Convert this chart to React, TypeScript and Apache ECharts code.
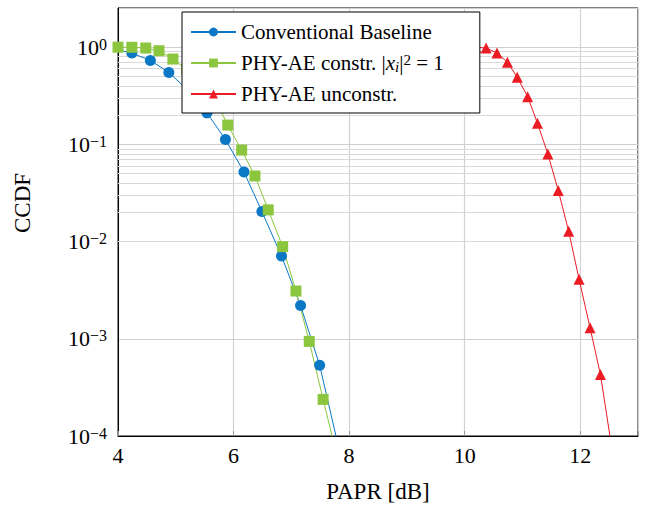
import React, { useEffect, useRef } from "react";
import * as echarts from "echarts";

// ---- data ----
const baselineX = [3.91, 4.24, 4.56, 4.88, 5.21, 5.54, 5.86, 6.18, 6.49, 6.83, 7.16, 7.49, 7.81];
const baselineY = [0.97, 0.87, 0.73, 0.55, 0.36, 0.211, 0.112, 0.052, 0.0204, 0.0071, 0.0022, 0.000535, 0.00008];

const constrX = [4.0, 4.24, 4.48, 4.71, 4.95, 5.19, 5.42, 5.66, 5.9, 6.14, 6.37, 6.6, 6.85, 7.08, 7.31, 7.55, 7.78];
const constrY = [1.0, 0.998, 0.98, 0.92, 0.755, 0.59, 0.44, 0.31, 0.158, 0.0873, 0.0473, 0.0212, 0.00887, 0.0031, 0.00094, 0.000238, 0.000066];

const unconstrX = [10.19, 10.37, 10.56, 10.74, 10.91, 11.09, 11.26, 11.44, 11.62, 11.8, 11.98, 12.17, 12.35, 12.53];
const unconstrY = [1.0, 0.98, 0.87, 0.7, 0.49, 0.31, 0.165, 0.0796, 0.0336, 0.0128, 0.0041, 0.0013, 0.00043, 0.000087];

const seriesNames = ["Conventional Baseline", "PHY-AE constr. |x_i|^2 = 1", "PHY-AE unconstr."];
const xTickValues = [4, 6, 8, 10, 12];
const yDecades = [-4, -3, -2, -1, 0];
const minorMantissas = [2, 3, 4, 5, 6, 7, 8, 9];

const BLUE = "#0b78c6";
const GREEN = "#8cc63e";
const RED = "#ec1c24";
const FONT = "'Liberation Serif', 'DejaVu Serif', serif";

const zip = (xs: number[], ys: number[]) => xs.map((x, i) => [x, ys[i]]);

export default function App() {
  const ref = useRef<HTMLDivElement>(null);
  useEffect(() => {
    document.body.style.margin = "0";
    const chart = echarts.init(ref.current!, null, { renderer: "svg" });
    const minorGrid: number[] = [];
    yDecades.slice(0, -1).forEach((d) => minorMantissas.forEach((m) => minorGrid.push(m * Math.pow(10, d))));

    const option: any = {
      animation: false,
      backgroundColor: "#fff",
      grid: { left: 118, right: 11, top: 8, bottom: 70, show: true, borderColor: "#000", borderWidth: 1, backgroundColor: "transparent" },
      legend: {
        orient: "vertical",
        left: 182,
        top: 12,
        z: 20,
        data: seriesNames,
        itemWidth: 45,
        itemHeight: 11,
        itemGap: 9,
        padding: [9, 36, 8, 8],
        backgroundColor: "#fff",
        borderColor: "#000",
        borderWidth: 1,
        borderRadius: 0,
        formatter: (name: string) =>
          name === seriesNames[1] ? "PHY-AE constr. |{it|x}{sub|i}|{sup|2} = 1" : name,
        textStyle: {
          fontFamily: FONT,
          fontSize: 21,
          color: "#000",
          lineHeight: 22,
          rich: {
            it: { fontFamily: FONT, fontSize: 21, fontStyle: "italic", color: "#000", lineHeight: 22 },
            sub: { fontFamily: FONT, fontSize: 15, fontStyle: "italic", color: "#000", verticalAlign: "bottom", lineHeight: 14 },
            sup: { fontFamily: FONT, fontSize: 15, color: "#000", verticalAlign: "top", lineHeight: 14 },
          },
        },
      },
      xAxis: {
        type: "value",
        min: 4,
        max: 13,
        interval: 2,
        name: "PAPR [dB]",
        nameLocation: "middle",
        nameGap: 44,
        nameTextStyle: { fontFamily: FONT, fontSize: 23, color: "#000" },
        axisLine: { show: true, lineStyle: { color: "#000", width: 1 } },
        axisTick: { show: true, inside: true, length: 5, lineStyle: { color: "#999" } },
        axisLabel: {
          fontFamily: FONT,
          fontSize: 22,
          color: "#000",
          margin: 8,
          formatter: (v: number) => (xTickValues.includes(v) ? String(v) : ""),
        },
        splitLine: { show: true, lineStyle: { color: "#d2d2d2", width: 1.2 } },
      },
      yAxis: {
        type: "log",
        logBase: 10,
        min: 1e-4,
        max: 2.53,
        name: "CCDF",
        nameLocation: "middle",
        nameGap: 84,
        nameTextStyle: { fontFamily: FONT, fontSize: 23, color: "#000", padding: [0, 0, 0, 38] },
        axisLine: { show: true, lineStyle: { color: "#000", width: 1 } },
        axisTick: { show: false },
        axisLabel: {
          fontFamily: FONT,
          fontSize: 22,
          color: "#000",
          margin: 11,
          formatter: (v: number) => {
            const l = Math.log10(v);
            const e = Math.round(l);
            if (Math.abs(l - e) > 1e-6 || !yDecades.includes(e)) return "";
            return "10{sup|" + (e < 0 ? "\u2212" + -e : String(e)) + "}";
          },
          rich: {
            sup: { fontFamily: FONT, fontSize: 16, color: "#000", verticalAlign: "top", lineHeight: 15 },
          },
          lineHeight: 22,
        },
        splitLine: { show: true, lineStyle: { color: "#cfcfcf", width: 1 } },
      },
      series: [
        {
          name: "minor-grid",
          type: "line",
          data: [],
          silent: true,
          z: 1,
          markLine: {
            silent: true,
            symbol: "none",
            z: 1,
            label: { show: false },
            emphasis: { disabled: true },
            lineStyle: { color: "#d9d9d9", width: 1, type: "solid" },
            data: minorGrid.map((v) => ({ yAxis: v })),
          },
        },
        {
          name: seriesNames[0],
          type: "line",
          data: zip(baselineX, baselineY),
          symbol: "circle",
          symbolSize: 11,
          clip: true,
          z: 2,
          lineStyle: { color: BLUE, width: 1 },
          itemStyle: { color: BLUE },
        },
        {
          name: seriesNames[1],
          type: "line",
          data: zip(constrX, constrY),
          symbol: "rect",
          symbolSize: 11,
          clip: true,
          z: 2,
          lineStyle: { color: GREEN, width: 1 },
          itemStyle: { color: GREEN },
        },
        {
          name: seriesNames[2],
          type: "line",
          data: zip(unconstrX, unconstrY),
          symbol: "triangle",
          symbolSize: 11,
          clip: true,
          z: 2,
          lineStyle: { color: RED, width: 1 },
          itemStyle: { color: RED },
        },
      ],
    };
    chart.setOption(option);
    return () => chart.dispose();
  }, []);
  return <div ref={ref} style={{ position: "fixed", left: 0, top: 0, width: 649, height: 508 }} />;
}
